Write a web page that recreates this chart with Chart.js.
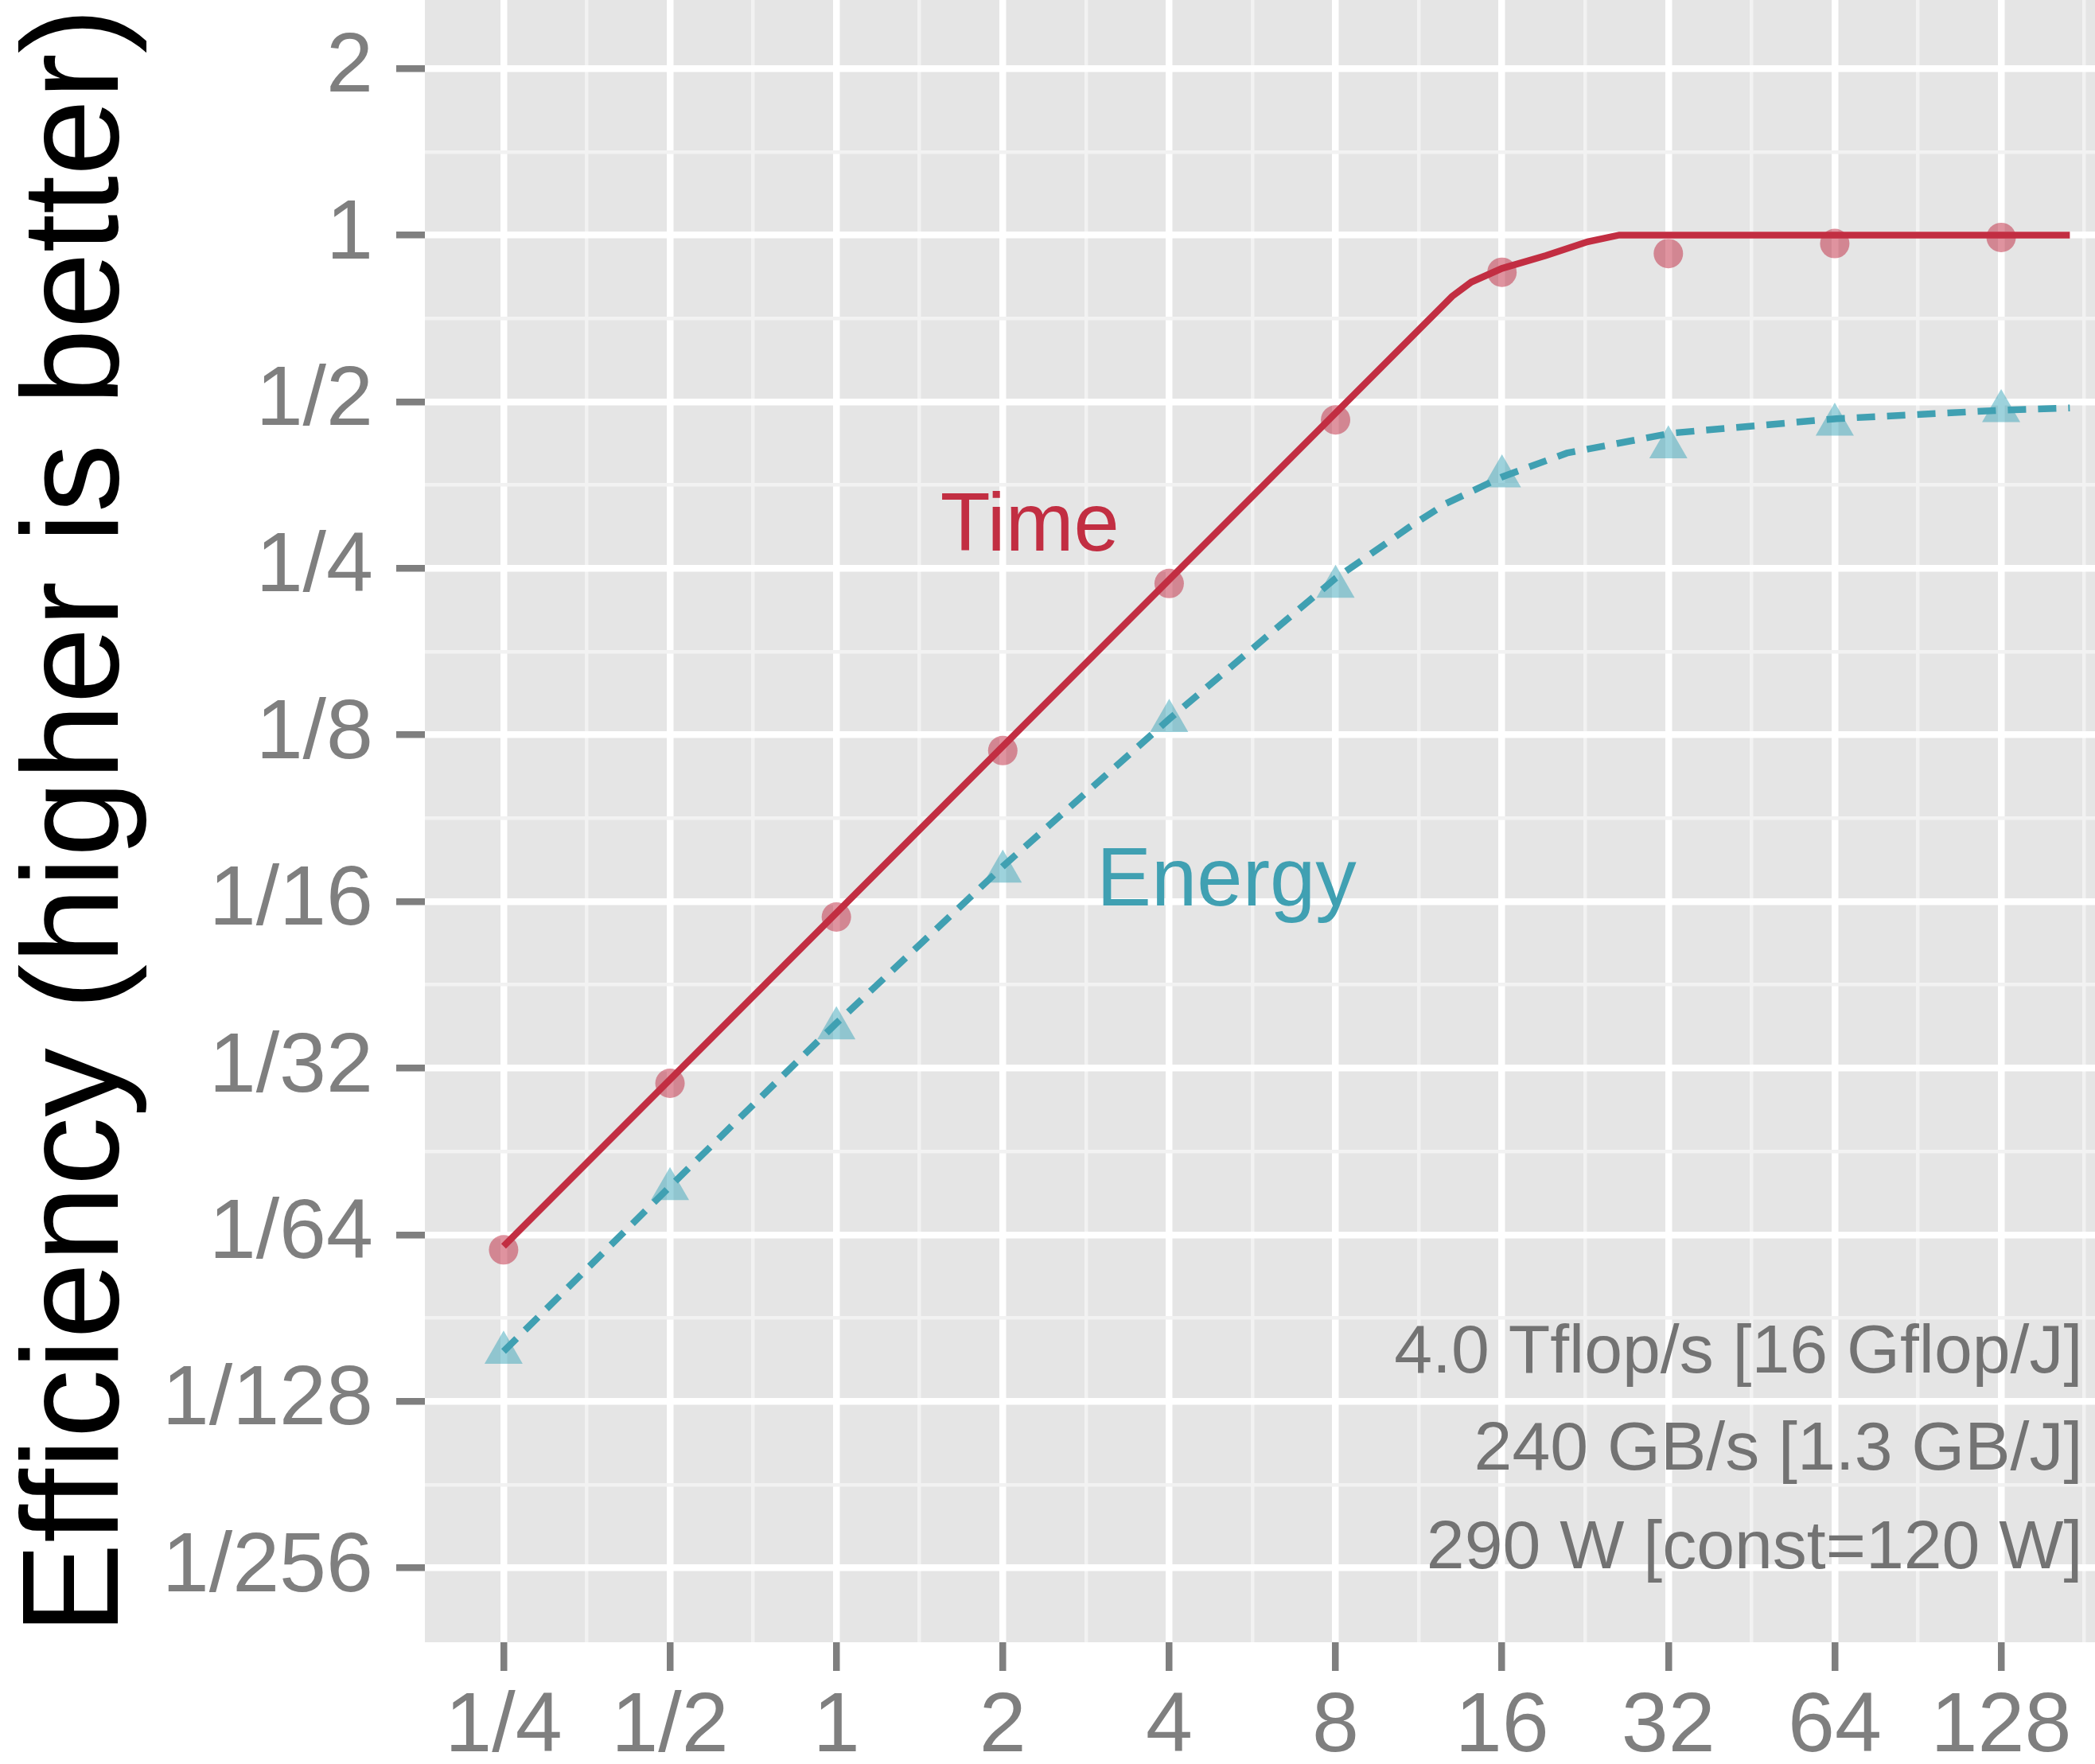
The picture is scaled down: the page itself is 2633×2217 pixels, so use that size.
<!DOCTYPE html>
<html>
<head>
<meta charset="utf-8">
<script src="https://cdn.jsdelivr.net/npm/chart.js@4.4.1/dist/chart.umd.min.js"></script>
<style>
  html, body { margin: 0; padding: 0; background: #fff; }
  #wrap { width: 2633px; height: 2217px; }
</style>
</head>
<body>
<div id="wrap"><canvas id="roofline"></canvas></div>
<script>
// axis ticks (powers of two) and their labels
const xTickValues = [0.25, 0.5, 1, 2, 4, 8, 16, 32, 64, 128];
const xTickLabels = ['1/4', '1/2', '1', '2', '4', '8', '16', '32', '64', '128'];
const yTickValues = [1/256, 1/128, 1/64, 1/32, 1/16, 1/8, 1/4, 1/2, 1, 2];
const yTickLabels = ['1/256', '1/128', '1/64', '1/32', '1/16', '1/8', '1/4', '1/2', '1', '2'];

// measured efficiency at each intensity
const intensity = [0.25, 0.5, 1, 2, 4, 8, 16, 32, 64, 128];
const timeMeasured = [0.01467, 0.02934, 0.0586, 0.1171, 0.2347, 0.4635, 0.8567, 0.926, 0.9653, 0.9903];
const energyMeasured = [0.009566, 0.01889, 0.03689, 0.0708, 0.1325, 0.2315, 0.3664, 0.4135, 0.4544, 0.4807];

// model curves
const timeModelX = [0.25, 13.0, 14.08, 16, 19.2, 22.87, 26.08, 170.4];
const timeModelY = [0.0149, 0.775, 0.8224, 0.8706, 0.918, 0.9727, 1, 1];
const energyModelX = [0.25, 0.5, 1, 2, 4, 8, 9.13, 10.87, 12.68, 16, 20.97, 32.45, 64.44, 128.4, 170.4];
const energyModelY = [0.009619, 0.0191, 0.03768, 0.07231, 0.1335, 0.2398, 0.2627, 0.2966, 0.3274, 0.3656, 0.4038, 0.4387, 0.4659, 0.4826, 0.487];

const specLines = ['4.0 Tflop/s [16 Gflop/J]', '240 GB/s [1.3 GB/J]', '290 W [const=120 W]'];

const FONT = "'Liberation Sans', Arial, Helvetica, sans-serif";
const RED = '#C22E42';
const TEAL = '#40A0B2';

const xMin = Math.pow(2, -2.473), xMax = Math.pow(2, 7.564);
const yMin = Math.pow(2, -8.446), yMax = Math.pow(2, 1.411);

const toXY = (xs, ys) => xs.map((v, i) => ({ x: v, y: ys[i] }));

// major ticks plus the half-way (minor) ones, like ggplot
function gridTicks(values, labels, lo, hi) {
  const out = [];
  values.forEach((v, i) => {
    out.push({ value: v, lbl: labels[i], minor: false });
    const m = v * Math.SQRT2;
    if (m >= lo && m <= hi) out.push({ value: m, lbl: '', minor: true });
    const b = v / Math.SQRT2;
    if (i === 0 && b >= lo) out.push({ value: b, lbl: '', minor: true });
  });
  return out.sort((a, b) => a.value - b.value);
}

const gridStyle = {
  color: c => (c.tick && c.tick.minor) ? '#F2F2F2' : '#FFFFFF',
  lineWidth: c => (c.tick && c.tick.minor) ? 4.5 : 8.5,
  tickColor: c => (c.tick && c.tick.minor) ? 'rgba(0,0,0,0)' : '#7F7F7F',
  tickWidth: 8.5,
  tickLength: 36,
  drawTicks: true
};

const panelAndNotes = {
  id: 'panelAndNotes',
  beforeDraw(chart) {
    const { ctx, chartArea: a } = chart;
    ctx.save();
    ctx.fillStyle = '#E5E5E5';
    ctx.fillRect(a.left, a.top, a.right - a.left, a.bottom - a.top);
    ctx.restore();
  },
  afterDatasetsDraw(chart) {
    const { ctx, scales: { x, y } } = chart;
    ctx.save();
    ctx.textBaseline = 'alphabetic';
    ctx.font = '103px ' + FONT;
    ctx.textAlign = 'center';
    ctx.fillStyle = RED;
    ctx.fillText('Time', x.getPixelForValue(2.238), y.getPixelForValue(0.269));
    ctx.fillStyle = TEAL;
    ctx.fillText('Energy', x.getPixelForValue(5.08), y.getPixelForValue(0.06148));

    ctx.font = '86px ' + FONT;
    ctx.textAlign = 'right';
    ctx.fillStyle = '#737373';
    const rightX = x.getPixelForValue(179.7);
    const baseY = [0.00881, 0.00588, 0.003897];
    specLines.forEach((s, i) => ctx.fillText(s, rightX, y.getPixelForValue(baseY[i])));
    ctx.restore();
  }
};

new Chart(document.getElementById('roofline'), {
  type: 'line',
  data: {
    datasets: [
      {
        label: 'Time model',
        data: toXY(timeModelX, timeModelY),
        borderColor: RED,
        borderWidth: 8.5,
        pointRadius: 0,
        tension: 0,
        fill: false,
        order: 1
      },
      {
        label: 'Energy model',
        data: toXY(energyModelX, energyModelY),
        borderColor: TEAL,
        borderWidth: 8.5,
        borderDash: [23, 15],
        borderCapStyle: 'butt',
        pointRadius: 0,
        tension: 0,
        fill: false,
        order: 1
      },
      {
        label: 'Time',
        data: toXY(intensity, timeMeasured),
        showLine: false,
        pointStyle: 'circle',
        pointRadius: 18.5,
        pointBorderWidth: 0,
        pointBackgroundColor: 'rgba(192,40,64,0.5)',
        order: 2
      },
      {
        label: 'Energy',
        data: toXY(intensity, energyMeasured),
        showLine: false,
        pointStyle: 'triangle',
        pointRadius: 27.7,
        pointBorderWidth: 0,
        pointBackgroundColor: 'rgba(60,165,185,0.5)',
        order: 2
      }
    ]
  },
  options: {
    responsive: true,
    maintainAspectRatio: false,
    devicePixelRatio: 1,
    animation: false,
    layout: { padding: 0, autoPadding: false },
    plugins: {
      legend: { display: false },
      tooltip: { enabled: false }
    },
    scales: {
      x: {
        type: 'logarithmic',
        min: xMin,
        max: xMax,
        bounds: 'data',
        border: { display: false },
        grid: gridStyle,
        afterBuildTicks: axis => { axis.ticks = gridTicks(xTickValues, xTickLabels, xMin, xMax); },
        afterFit: axis => {
          axis.height = 153;
          axis.paddingLeft = 0; axis.paddingRight = 0;
        },
        ticks: {
          autoSkip: false,
          maxRotation: 0,
          minRotation: 0,
          padding: 8,
          color: '#7F7F7F',
          font: { family: FONT, size: 106 },
          callback: (v, i, t) => t[i].lbl
        }
      },
      y: {
        type: 'logarithmic',
        min: yMin,
        max: yMax,
        bounds: 'data',
        border: { display: false },
        grid: gridStyle,
        afterBuildTicks: axis => { axis.ticks = gridTicks(yTickValues, yTickLabels, yMin, yMax); },
        afterFit: axis => {
          axis.width = 534;
          axis.paddingTop = 0; axis.paddingBottom = 0;
        },
        title: {
          display: true,
          text: 'Efficiency (higher is better)',
          color: '#000000',
          font: { family: FONT, size: 173 },
          padding: { top: -4, bottom: 0 }
        },
        ticks: {
          autoSkip: false,
          padding: 29,
          color: '#7F7F7F',
          font: { family: FONT, size: 106 },
          callback: (v, i, t) => t[i].lbl
        }
      }
    }
  },
  plugins: [panelAndNotes]
});
</script>
</body>
</html>
